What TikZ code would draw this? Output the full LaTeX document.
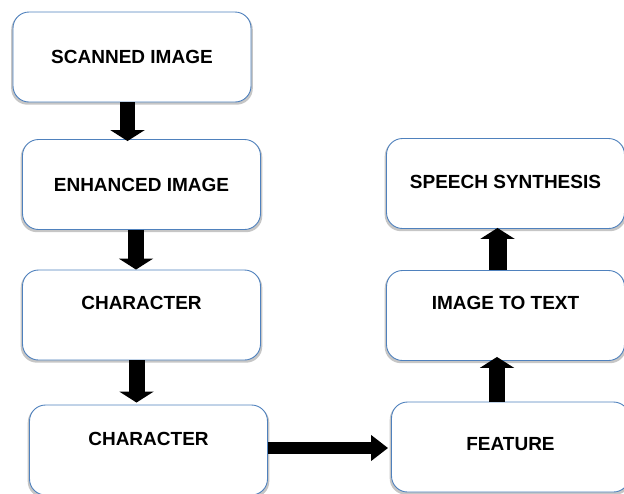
\documentclass[tikz,border=0pt]{standalone}
\usepackage{fontspec}
\setmainfont{Liberation Sans}
\usetikzlibrary{positioning, arrows.meta, shadows}
\definecolor{boxblue}{HTML}{4F81BD}

\begin{document}
\begin{tikzpicture}[on grid,
	box/.style={draw=boxblue, line width=0.9pt, rounded corners=16pt, fill=white,
		minimum width=238pt, minimum height=90pt,
		drop shadow={shadow xshift=0pt, shadow yshift=-2pt, shadow scale=1.015, opacity=0.45, fill=gray}},
	txt/.style={font=\fontsize{19}{21}\selectfont\bfseries, inner sep=0pt},
	blk/.style={line width=#1, -{Triangle[length=11pt,width=34pt]}}]
	
	\useasboundingbox (0,0) rectangle (624pt,-493pt);
	
	\node[box] (b_0) at (132pt,-57pt) {};
	\node[box] (b_1) [below right=127.5pt and 9.5pt of b_0] {};
	\node[box] (b_2) [below=130.5pt of b_1] {};
	\node[box] (b_3) [below right=135pt and 7pt of b_2] {};
	\node[box] (b_4) [above right=3pt and 362pt of b_3] {};
	\node[box] (b_5) [above left=131.5pt and 5pt of b_4] {};
	\node[box] (b_6) [above=132pt of b_5] {};
	
	\node[txt] (t_0) [below=38pt of b_0.north] {SCANNED IMAGE};
	\node[txt] (t_1) [below=39pt of b_1.north] {ENHANCED IMAGE};
	\node[txt] (t_2) [below=26pt of b_2.north] {CHARACTER};
	\node[txt] (t_3) [below=27pt of b_3.north] {CHARACTER};
	\node[txt] (t_4) [below=36pt of b_4.north] {FEATURE};
	\node[txt] (t_5) [below=26pt of b_5.north] {IMAGE TO TEXT};
	\node[txt] (t_6) [below=37pt of b_6.north] {SPEECH SYNTHESIS};
	
	\draw[blk=15pt] ([xshift=-4.5pt]b_0.south) -- ([xshift=-4.5pt,yshift=-2pt]b_0.south |- b_1.north);
	\draw[blk=16pt] ([xshift=-5.5pt]b_1.south) -- ([xshift=-5.5pt]b_1.south |- b_2.north);
	\draw[blk=16pt] ([xshift=-5pt]b_2.south) -- ([xshift=-5pt,yshift=2pt]b_2.south |- b_3.north);
	\draw[line width=12pt, -{Triangle[length=17pt,width=25pt]}]
		([yshift=2pt]b_3.east) -- ([xshift=-3pt,yshift=2pt]b_3.east -| b_4.west);
	\draw[blk=16pt] ([xshift=-13.5pt]b_4.north) -- ([xshift=-13.5pt,yshift=4pt]b_4.north |- b_5.south);
	\draw[blk=18pt] ([xshift=-8pt]b_5.north) -- ([xshift=-8pt,yshift=1pt]b_5.north |- b_6.south);
\end{tikzpicture}
\end{document}
